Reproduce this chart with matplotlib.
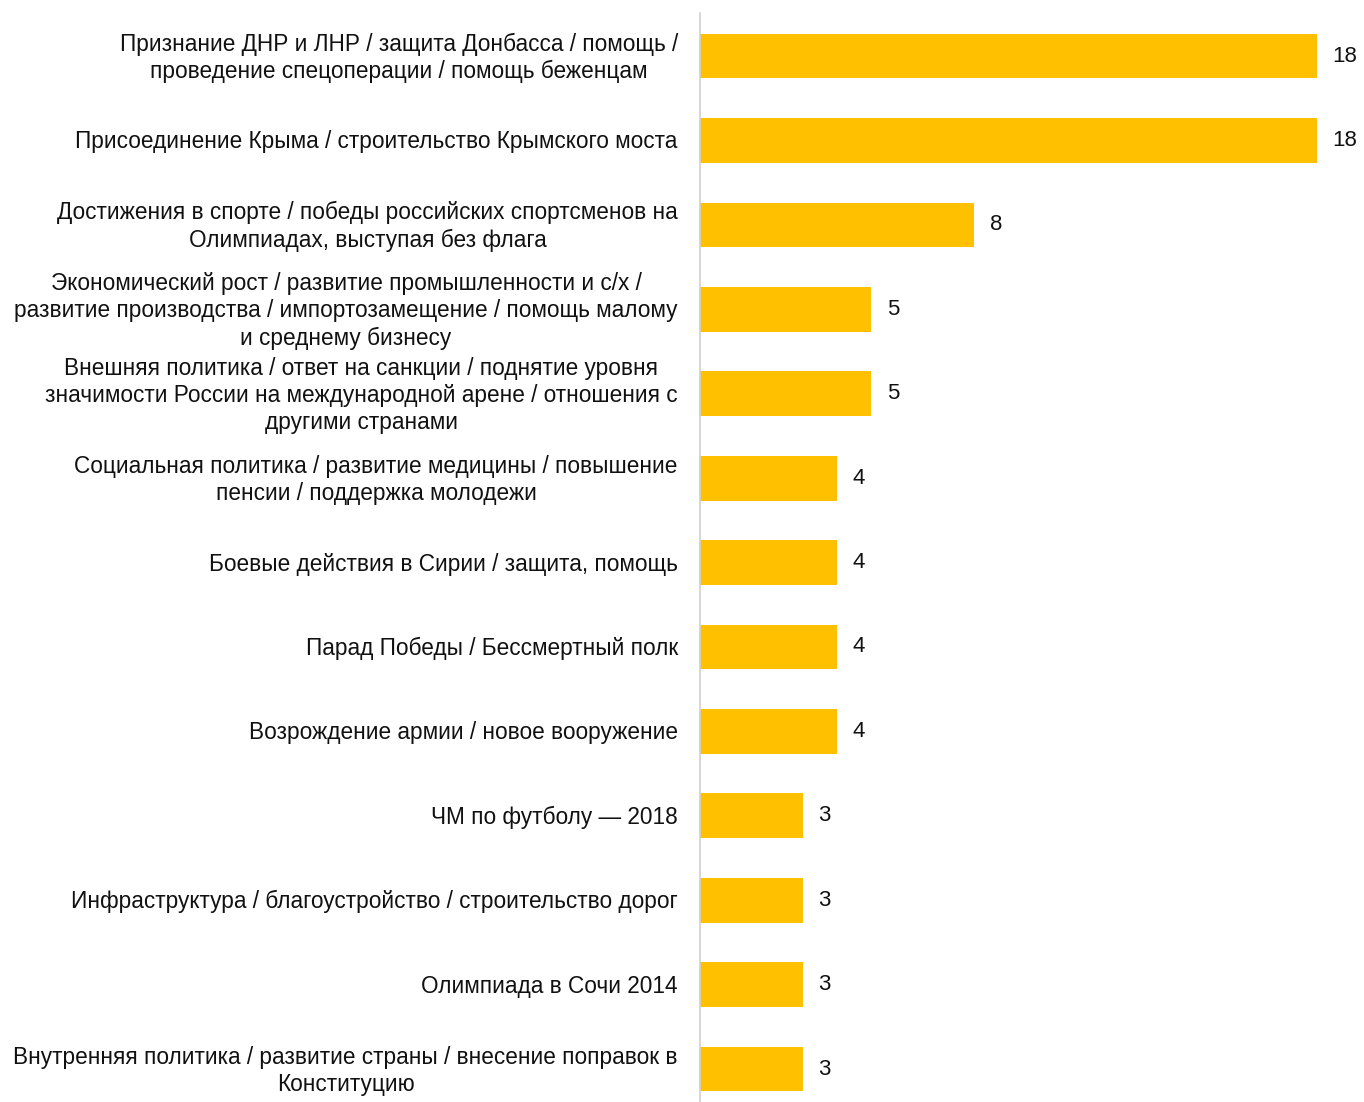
import matplotlib
matplotlib.use("Agg")
import matplotlib.pyplot as plt
from matplotlib.transforms import ScaledTranslation

plt.rcParams['font.family'] = ['Liberation Sans', 'DejaVu Sans']

categories = [
    "Признание ДНР и ЛНР / защита Донбасса / помощь /\nпроведение спецоперации / помощь беженцам",
    "Присоединение Крыма / строительство Крымского моста",
    "Достижения в спорте / победы российских спортсменов на\nОлимпиадах, выступая без флага",
    "Экономический рост / развитие промышленности и с/х /\nразвитие производства / импортозамещение / помощь малому\nи среднему бизнесу",
    "Внешняя политика / ответ на санкции / поднятие уровня\nзначимости России на международной арене / отношения с\nдругими странами",
    "Социальная политика / развитие медицины / повышение\nпенсии / поддержка молодежи",
    "Боевые действия в Сирии / защита, помощь",
    "Парад Победы / Бессмертный полк",
    "Возрождение армии / новое вооружение",
    "ЧМ по футболу — 2018",
    "Инфраструктура / благоустройство / строительство дорог",
    "Олимпиада в Сочи 2014",
    "Внутренняя политика / развитие страны / внесение поправок в\nКонституцию",
]
values = [18, 18, 8, 5, 5, 4, 4, 4, 4, 3, 3, 3, 3]

W, H = 1364, 1102
fig = plt.figure(figsize=(W / 100, H / 100), dpi=100)
ax = fig.add_axes([700 / W, 0, (W - 700) / W, (H - 13) / H])

y = list(range(len(categories)))
ax.barh(y, values, height=0.53, color="#FFC000", zorder=2)
ax.set_xlim(0, 664 / 34.28)
ax.set_ylim(len(categories) - 1 + 0.39, -0.51)

for yi, v in zip(y, values):
    ax.text(v + 0.45, yi, str(v), va="center", ha="left", fontsize=16, color="#111111")

ax.set_yticks(y)
ax.set_yticklabels(categories, fontsize=16.3, color="#111111", ha="right",
                   multialignment="center", linespacing=1.24)
ax.tick_params(axis="y", length=0, pad=16)
for lab, cat in zip(ax.get_yticklabels(), categories):
    dy = 3 if "\n" in cat else 1
    lab.set_transform(lab.get_transform() + ScaledTranslation(0, dy / 100, fig.dpi_scale_trans))
ax.set_xticks([])
for s in ["top", "right", "bottom"]:
    ax.spines[s].set_visible(False)
ax.spines["left"].set_color("#d0d0d0")
ax.spines["left"].set_linewidth(1.2)

fig.savefig("out.png", dpi=100)
